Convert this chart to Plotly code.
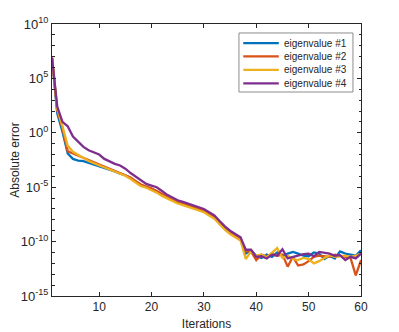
import plotly.graph_objects as go

iterations = list(range(1, 61))

eig1 = [6.9, 1.8, 0.1, -1.9, -2.4, -2.55, -2.6, -2.75, -2.9, -3.05,
        -3.2, -3.35, -3.55, -3.75, -3.9, -4.15, -4.5, -4.8, -5.0, -5.15,
        -5.4, -5.7, -5.95, -6.2, -6.4, -6.55, -6.7, -6.85, -7.0, -7.2,
        -7.5, -7.8, -8.3, -8.8, -9.2, -9.5, -9.8, -11.1, -10.8, -11.3,
        -11.5, -11.2, -11.4, -11.0, -11.3, -11.1, -10.95, -11.1, -11.3, -11.35,
        -11.0, -11.1, -11.6, -11.3, -11.55, -10.9, -11.1, -11.2, -11.3, -10.8]

eig2 = [6.9, 2.1, 0.45, -1.7, -1.9, -2.1, -2.3, -2.5, -2.7, -2.9,
        -3.1, -3.3, -3.5, -3.7, -3.85, -4.1, -4.45, -4.75, -4.95, -5.1,
        -5.35, -5.65, -5.9, -6.15, -6.35, -6.5, -6.65, -6.8, -6.95, -7.15,
        -7.45, -7.75, -8.25, -8.75, -9.15, -9.45, -9.75, -10.9, -10.9, -11.7,
        -11.2, -11.4, -11.1, -11.3, -11.2, -12.3, -11.4, -12.2, -12.1, -11.8,
        -11.4, -11.3, -11.35, -11.4, -11.2, -11.3, -11.35, -11.5, -13.1, -11.7]

eig3 = [6.9, 2.2, 0.6, -1.2, -1.75, -2.05, -2.35, -2.6, -2.8, -3.0,
        -3.2, -3.4, -3.6, -3.8, -3.95, -4.25, -4.6, -4.9, -5.05, -5.25,
        -5.5, -5.8, -6.05, -6.3, -6.5, -6.65, -6.8, -6.95, -7.1, -7.3,
        -7.6, -7.9, -8.4, -8.9, -9.3, -9.6, -9.9, -11.6, -10.9, -11.3,
        -11.2, -11.45, -11.0, -10.6, -11.5, -11.3, -11.6, -11.7, -11.5, -11.6,
        -12.0, -11.8, -11.5, -11.25, -11.4, -11.35, -11.3, -11.4, -11.3, -11.1]

eig4 = [6.9, 2.4, 1.0, 0.6, -0.35, -0.8, -1.3, -1.6, -1.8, -2.0,
        -2.4, -2.65, -2.85, -3.0, -3.3, -3.7, -4.05, -4.4, -4.7, -4.85,
        -5.0, -5.35, -5.7, -5.95, -6.2, -6.35, -6.5, -6.65, -6.8, -7.0,
        -7.3, -7.6, -8.1, -8.6, -9.0, -9.3, -9.6, -10.75, -10.75, -11.4,
        -11.35, -11.55, -11.2, -11.3, -10.7, -11.55, -11.4, -11.25, -11.15, -11.1,
        -11.35, -10.95, -11.0, -11.1, -11.3, -11.25, -11.7, -11.4, -11.55, -11.1]

names = ["eigenvalue #1", "eigenvalue #2", "eigenvalue #3", "eigenvalue #4"]
colors = ["#0072BD", "#D95319", "#EDB120", "#7E2F8E"]
series = [eig1, eig2, eig3, eig4]

y_exponents = [10, 5, 0, -5, -10, -15]
minor_exponents = list(range(-15, 11))

fig = go.Figure()
for name, color, s in zip(names, colors, series):
    fig.add_trace(go.Scatter(
        x=iterations, y=[10 ** v for v in s], mode="lines", name=name,
        line=dict(color=color, width=2.3), showlegend=False))

axcol = "#262626"
font = dict(family="Liberation Sans, Arial, sans-serif", size=11, color=axcol)

# compact MATLAB-style legend box (paper coordinates of the plot area)
leg_x0, leg_x1, leg_top, leg_bot = 0.605, 0.974, 0.967, 0.750
line_x0, line_x1, text_x = 0.619, 0.734, 0.743
row_y = [0.930, 0.881, 0.831, 0.782]

fig.add_shape(type="rect", xref="paper", yref="paper",
              x0=leg_x0, x1=leg_x1, y0=leg_bot, y1=leg_top,
              fillcolor="white", line=dict(color="#8c8c8c", width=1), layer="above")
for name, color, ry in zip(names, colors, row_y):
    fig.add_shape(type="line", xref="paper", yref="paper",
                  x0=line_x0, x1=line_x1, y0=ry, y1=ry,
                  line=dict(color=color, width=2.3), layer="above")
    fig.add_annotation(xref="paper", yref="paper", x=text_x, y=ry, text=name,
                       showarrow=False, xanchor="left", yanchor="middle",
                       font=dict(size=10, color=axcol))

# page body has an 8px default margin, so the figure is sized to fit the rest
fig.update_layout(
    width=391, height=324,
    margin=dict(l=44, r=38, t=16, b=36),
    paper_bgcolor="white", plot_bgcolor="white",
    font=font,
    showlegend=False,
    xaxis=dict(range=[1, 60], tickvals=[10, 20, 30, 40, 50, 60],
               ticks="inside", ticklen=4, tickcolor=axcol, automargin=False,
               tickfont=dict(size=12, color=axcol),
               showline=True, linecolor=axcol, linewidth=1, mirror="ticks",
               showgrid=False, zeroline=False,
               title=dict(text="Iterations", font=dict(size=12, color=axcol), standoff=6)),
    yaxis=dict(type="log", range=[-15, 10],
               tickvals=[10.0 ** e for e in y_exponents],
               ticktext=["10<sup>%d</sup>" % e for e in y_exponents],
               ticks="inside", ticklen=4, tickcolor=axcol, automargin=False,
               tickfont=dict(size=13, color=axcol),
               showline=True, linecolor=axcol, linewidth=1, mirror="ticks",
               showgrid=False, zeroline=False,
               title=dict(text="Absolute error", font=dict(size=12, color=axcol), standoff=4)),
    yaxis2=dict(type="log", range=[-15, 10], overlaying="y", side="left",
                tickvals=[10.0 ** e for e in minor_exponents], automargin=False,
                showticklabels=False, ticks="inside", ticklen=2.5, tickcolor=axcol,
                showline=False, mirror="ticks", showgrid=False, zeroline=False),
)

fig.add_trace(go.Scatter(x=[1], y=[1e10], yaxis="y2", mode="markers",
                         marker=dict(opacity=0), showlegend=False, hoverinfo="skip"))

fig.write_html("out.html")
